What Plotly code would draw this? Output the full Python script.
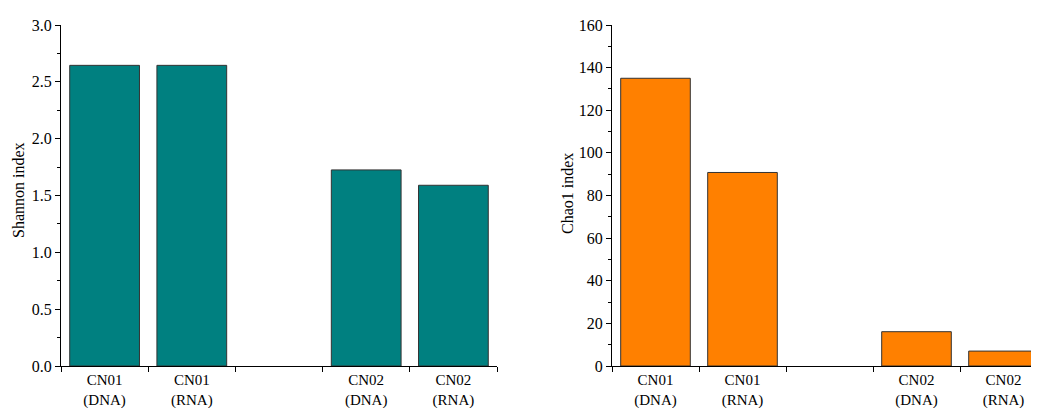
import plotly.graph_objects as go

categories = ["CN01<br>(DNA)", "CN01<br>(RNA)", " ", "CN02<br>(DNA)", "CN02<br>(RNA)"]
shannon = [2.645, 2.645, None, 1.725, 1.59]
chao1 = [135.0, 90.8, None, 16.1, 7.0]

# page has an 8px body margin, so the figure is sized to the visible area
W, H = 1031, 400
OFF = 8


def px(x):
    return (x - OFF) / W


def py(y):
    return (H - (y - OFF)) / H


fig = go.Figure()
fig.add_trace(go.Bar(x=categories, y=shannon, xaxis="x", yaxis="y", width=0.8,
                     marker=dict(color="#008080", line=dict(color="#333333", width=1)),
                     showlegend=False))
fig.add_trace(go.Bar(x=categories, y=chao1, xaxis="x2", yaxis="y2", width=0.8,
                     marker=dict(color="#FF8000", line=dict(color="#333333", width=1)),
                     showlegend=False))

fam = "Liberation Serif, Times New Roman, serif"
xfont = dict(family=fam, size=15, color="#000")
yfont = dict(family=fam, size=16, color="#000")
y0 = py(366)
y1 = py(25)

xcommon = dict(type="category", categoryorder="array", categoryarray=categories,
               showline=True, linecolor="#000", linewidth=1, ticks="outside",
               tickson="boundaries", ticklen=5, tickcolor="#000", showgrid=False,
               zeroline=False, tickfont=xfont, automargin=False, fixedrange=True)
ycommon = dict(showline=True, linecolor="#000", linewidth=1, ticks="outside",
               ticklen=5, tickcolor="#000", showgrid=False, zeroline=False,
               tickfont=yfont, automargin=False)

fig.update_layout(
    width=W, height=H, margin=dict(l=0, r=0, t=0, b=0),
    paper_bgcolor="white", plot_bgcolor="white", font=xfont, bargap=0.2,
    xaxis=dict(domain=[px(61), px(497)], range=[-0.5, 4.5], anchor="y", **xcommon),
    yaxis=dict(domain=[y0, y1], range=[0, 3.0], dtick=0.5, tickformat=".1f", anchor="x",
               minor=dict(dtick=0.25, ticks="outside", ticklen=3, tickcolor="#000"),
               **ycommon),
    xaxis2=dict(domain=[px(612), 1.0], range=[-0.5, 4.408], anchor="y2", **xcommon),
    yaxis2=dict(domain=[y0, y1], range=[0, 160], dtick=20, anchor="x2",
                minor=dict(dtick=10, ticks="outside", ticklen=3, tickcolor="#000"),
                **ycommon),
    annotations=[
        dict(text="Shannon index", x=px(19), y=py(190), xref="paper", yref="paper",
             xanchor="center", yanchor="middle",
             textangle=-90, showarrow=False, font=dict(family=fam, size=16, color="#000")),
        dict(text="Chao1 index", x=px(567), y=py(194), xref="paper", yref="paper",
             xanchor="center", yanchor="middle",
             textangle=-90, showarrow=False, font=dict(family=fam, size=16, color="#000")),
    ],
)

fig.write_html("out.html")
